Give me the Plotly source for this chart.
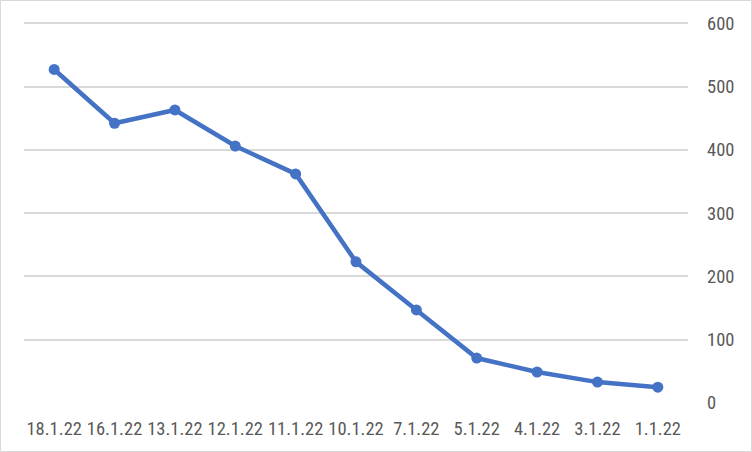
import plotly.graph_objects as go

dates = ["18.1.22", "16.1.22", "13.1.22", "12.1.22", "11.1.22", "10.1.22",
         "7.1.22", "5.1.22", "4.1.22", "3.1.22", "1.1.22"]
values = [527, 442, 463, 406, 362, 223, 147, 71, 49, 33, 25]
y_ticks = [0, 100, 200, 300, 400, 500, 600]

W, H = 752, 452
L, R, T, B = 24, 64, 22, 49
pw, ph = W - L - R, H - T - B

fig = go.Figure()
fig.add_trace(go.Scatter(
    x=dates, y=values, mode="lines+markers",
    line=dict(color="#4472C4", width=4.5),
    marker=dict(color="#4472C4", size=11),
    cliponaxis=False,
))

font = dict(family="Liberation Sans Narrow, Arial Narrow, Roboto Condensed, Liberation Sans, sans-serif",
            size=18.5, color="#595959")

fig.update_layout(
    width=W, height=H,
    margin=dict(l=L, r=R, t=T, b=B, autoexpand=False),
    paper_bgcolor="white", plot_bgcolor="white",
    showlegend=False,
    xaxis=dict(type="category", range=[-0.5, len(dates) - 0.5],
               showgrid=False, showline=False, zeroline=False,
               ticks="", tickfont=font, tickangle=0, automargin=False,
               ticklabelstandoff=12),
    yaxis=dict(side="right", range=[0, 602], tickvals=y_ticks,
               showgrid=True, gridcolor="#d9d9d9", gridwidth=1.5,
               zeroline=False, showline=False, ticks="", automargin=False,
               tickfont=font, ticklabelstandoff=18),
    shapes=[dict(type="rect", xref="paper", yref="paper",
                 x0=(0.5 - L) / pw, x1=(W - 0.5 - L) / pw,
                 y0=-(B - 0.5) / ph, y1=(H - 0.5 - B) / ph,
                 line=dict(color="#d9d9d9", width=1), fillcolor="rgba(0,0,0,0)",
                 layer="below")],
)

fig.write_html("out.html", config={"displayModeBar": False},
               post_script="document.body.style.margin='0';document.body.style.padding='0';document.body.style.overflow='hidden';")
